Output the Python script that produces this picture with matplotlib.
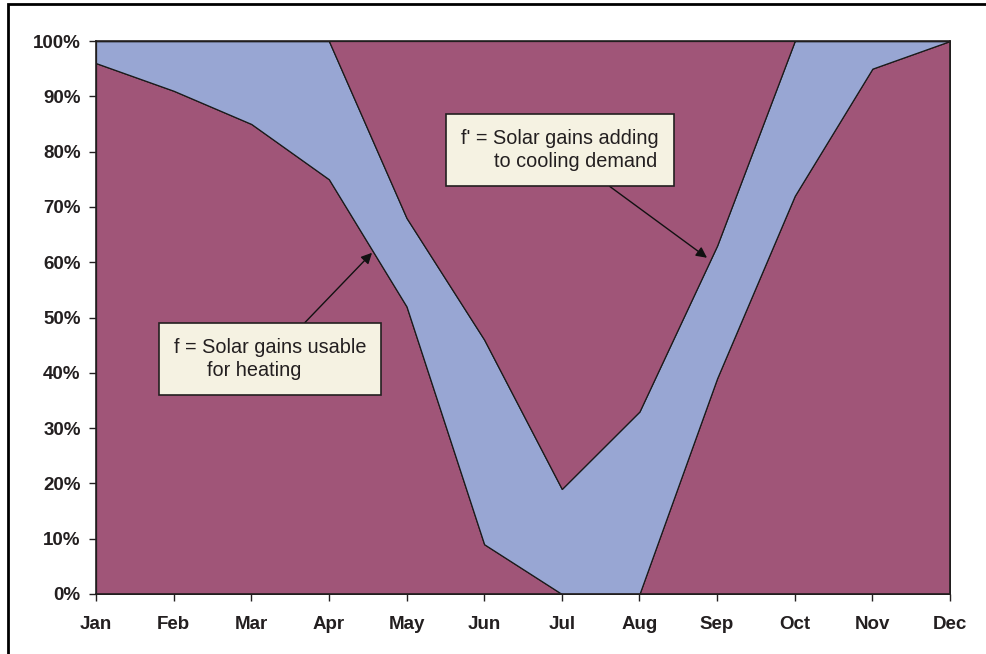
import matplotlib.pyplot as plt
import numpy as np
from matplotlib.patches import Rectangle

months = ['Jan', 'Feb', 'Mar', 'Apr', 'May', 'Jun', 'Jul', 'Aug', 'Sep', 'Oct', 'Nov', 'Dec']
# f = usable solar gains for heating (bottom share, %)
f_heat = [96, 91, 85, 75, 52, 9, 0, 0, 39, 72, 95, 100]
# upper boundary of the unused share (%), above it is f'
upper = [100, 100, 100, 100, 68, 46, 19, 33, 63, 100, 100, 100]

f_heat = np.array(f_heat) / 100.0
upper = np.array(upper) / 100.0
unused = upper - f_heat
f_cool = 1.0 - upper

maroon = '#A05578'
blue = '#98A6D3'
ink = '#231F20'

plt.rcParams['font.family'] = ['Liberation Sans', 'DejaVu Sans']

fig = plt.figure(figsize=(9.87, 6.54), dpi=100)
ax = fig.add_axes([96 / 987, 1 - 594 / 654, (950 - 96) / 987, (594 - 41) / 654])

x = np.arange(len(months))
ax.stackplot(x, f_heat, unused, f_cool, colors=[maroon, blue, maroon],
             edgecolor='#1a1a1a', linewidth=0.9)

ax.set_xlim(0, len(months) - 1)
ax.set_ylim(0, 1)
ax.set_xticks(x)
ax.set_xticklabels(months)
ax.set_yticks(np.arange(0, 1.01, 0.1))
ax.set_yticklabels(['%d%%' % v for v in range(0, 101, 10)])
ax.tick_params(axis='both', labelsize=13.5, length=5, width=1, colors=ink)
ax.tick_params(axis='x', pad=11)
ax.tick_params(axis='y', pad=6)
for lab in ax.get_xticklabels() + ax.get_yticklabels():
    lab.set_fontweight('bold')
    lab.set_color(ink)
for s in ax.spines.values():
    s.set_linewidth(1.2)
    s.set_color(ink)

# outer frame of the figure
fig.patches.append(Rectangle((8 / 987, -0.05), 1.2, 1 - 4 / 654 + 0.05,
                             transform=fig.transFigure, fill=False,
                             edgecolor='black', linewidth=2))

box = dict(boxstyle='square,pad=0.75', facecolor='#F5F2E2', edgecolor=ink, linewidth=1.2)
arrow = dict(arrowstyle='-|>', color='#111111', lw=1, mutation_scale=16, shrinkA=0, shrinkB=0)

ax.annotate('f = Solar gains usable\n      for heating', xy=(3.555, 0.617), xytext=(2.24, 0.425),
            fontsize=14.3, ha='center', va='center', multialignment='left', linespacing=1.25,
            bbox=box, arrowprops=arrow, color=ink)
ax.annotate("f' = Solar gains adding\n      to cooling demand", xy=(7.87, 0.608), xytext=(5.977, 0.803),
            fontsize=14.3, ha='center', va='center', multialignment='left', linespacing=1.25,
            bbox=box, arrowprops=arrow, color=ink)

fig.savefig('out.png', dpi=100)
